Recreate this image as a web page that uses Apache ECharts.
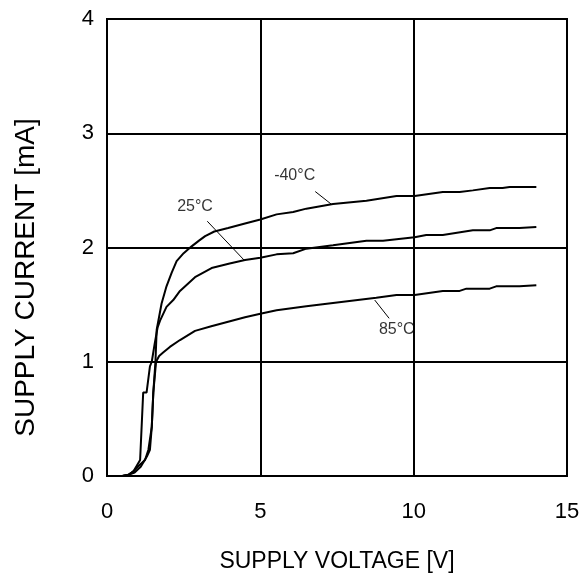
<!DOCTYPE html>
<html>
<head>
<meta charset="utf-8">
<script src="https://cdn.jsdelivr.net/npm/echarts@6/dist/echarts.min.js"></script>
<style>
  html, body { margin: 0; padding: 0; background: #fff; }
  #chart { width: 583px; height: 579px; }
</style>
</head>
<body>
<div id="chart"></div>
<script>
// Supply current vs supply voltage at three temperatures
const voltM40 = [0, 0.5, 0.7, 0.9, 1.1, 1.3, 1.4, 1.46, 1.51, 1.58, 1.62, 1.78, 1.94, 2.11, 2.27, 2.5, 2.76, 3.0, 3.2, 3.5, 3.95, 4.5, 5.0, 5.53, 6.07, 6.5, 7.37, 8.46, 9.44, 10.03, 10.95, 11.5, 11.93, 12.48, 12.9, 13.13, 14.0];
const currM40 = [0, 0, 0.01, 0.03, 0.08, 0.17, 0.23, 0.43, 0.73, 1.0, 1.28, 1.51, 1.66, 1.78, 1.88, 1.95, 2.01, 2.06, 2.10, 2.14, 2.17, 2.21, 2.245, 2.29, 2.31, 2.34, 2.38, 2.41, 2.45, 2.45, 2.485, 2.485, 2.50, 2.52, 2.52, 2.53, 2.53];

const volt25 = [0, 0.5, 0.7, 0.86, 1.08, 1.18, 1.29, 1.40, 1.46, 1.55, 1.65, 1.73, 1.94, 2.16, 2.38, 2.87, 3.41, 4.0, 4.5, 5.0, 5.53, 6.07, 6.5, 7.37, 8.46, 9.0, 10.03, 10.41, 10.95, 11.93, 12.48, 12.69, 13.45, 14.0];
const curr25 = [0, 0, 0.01, 0.04, 0.14, 0.73, 0.73, 0.96, 1.0, 1.15, 1.30, 1.36, 1.48, 1.54, 1.62, 1.74, 1.82, 1.86, 1.89, 1.91, 1.94, 1.95, 1.99, 2.02, 2.06, 2.06, 2.09, 2.11, 2.11, 2.15, 2.15, 2.17, 2.17, 2.18];

const volt85 = [0, 0.5, 0.7, 0.86, 1.08, 1.24, 1.35, 1.40, 1.46, 1.51, 1.6, 1.7, 1.83, 2.05, 2.38, 2.87, 3.4, 3.95, 4.5, 5.0, 5.53, 6.5, 7.37, 8.78, 9.44, 10.03, 10.95, 11.5, 11.72, 12.48, 12.69, 13.45, 14.0];
const curr85 = [0, 0, 0.01, 0.04, 0.1, 0.14, 0.23, 0.23, 0.43, 0.73, 1.0, 1.05, 1.08, 1.13, 1.19, 1.27, 1.31, 1.35, 1.39, 1.42, 1.45, 1.485, 1.515, 1.56, 1.585, 1.585, 1.62, 1.62, 1.64, 1.64, 1.66, 1.66, 1.67];

// Curve labels: text, anchor (V, mA), leader line start and end (V, mA)
const labelText = ['-40°C', '25°C', '85°C'];
const labelAt = [[6.12, 2.63], [2.87, 2.36], [9.45, 1.28]];
const leaderFrom = [[6.79, 2.49], [3.27, 2.23], [8.73, 1.54]];
const leaderTo = [[7.31, 2.38], [4.47, 1.89], [9.2, 1.38]];

const xTicks = [0, 5, 10, 15];
const yTicks = [0, 1, 2, 3, 4];

const FONT = 'Liberation Sans, Arial, sans-serif';

function pairs(xs, ys) { return xs.map((x, i) => [x, ys[i]]); }

const curveStyle = { color: '#000', width: 2 };
const curves = [
  [voltM40, currM40],
  [volt25, curr25],
  [volt85, curr85]
].map(([xs, ys]) => ({
  type: 'line',
  data: pairs(xs, ys),
  showSymbol: false,
  symbol: 'none',
  lineStyle: curveStyle,
  animation: false,
  z: 3
}));

const leaders = leaderFrom.map((p, i) => ({
  type: 'line',
  data: [p, leaderTo[i]],
  showSymbol: false,
  symbol: 'none',
  lineStyle: { color: '#000', width: 1 },
  animation: false,
  z: 3
}));

const labels = {
  type: 'scatter',
  symbolSize: 0,
  data: labelAt.map((p, i) => ({ value: p, name: labelText[i] })),
  label: {
    show: true,
    position: 'inside',
    formatter: p => p.name,
    color: '#000',
    fontFamily: FONT,
    fontSize: 16
  },
  animation: false,
  z: 4
};

const chart = echarts.init(document.getElementById('chart'), null, { renderer: 'canvas' });
chart.setOption({
  backgroundColor: '#fff',
  animation: false,
  grid: {
    left: 107, right: 16, top: 19, bottom: 103,
    show: true, borderColor: '#000', borderWidth: 2, backgroundColor: 'transparent'
  },
  xAxis: {
    type: 'value',
    min: xTicks[0], max: xTicks[xTicks.length - 1], interval: 5,
    name: 'SUPPLY VOLTAGE [V]',
    nameLocation: 'middle',
    nameGap: 74,
    nameTextStyle: { color: '#000', fontFamily: FONT, fontSize: 23 },
    axisLine: { show: true, lineStyle: { color: '#000', width: 2 } },
    axisTick: { show: false },
    axisLabel: { color: '#000', fontFamily: FONT, fontSize: 22, margin: 25 },
    splitLine: { show: true, lineStyle: { color: '#000', width: 2 } }
  },
  yAxis: {
    type: 'value',
    min: yTicks[0], max: yTicks[yTicks.length - 1], interval: 1,
    name: 'SUPPLY CURRENT [mA]',
    nameLocation: 'middle',
    nameGap: 67,
    nameTextStyle: { color: '#000', fontFamily: FONT, fontSize: 28, padding: [0, 60, 0, 0] },
    axisLine: { show: true, lineStyle: { color: '#000', width: 2 } },
    axisTick: { show: false },
    axisLabel: { color: '#000', fontFamily: FONT, fontSize: 22, margin: 13 },
    splitLine: { show: true, lineStyle: { color: '#000', width: 2 } }
  },
  series: [...curves, ...leaders, labels]
});
</script>
</body>
</html>
